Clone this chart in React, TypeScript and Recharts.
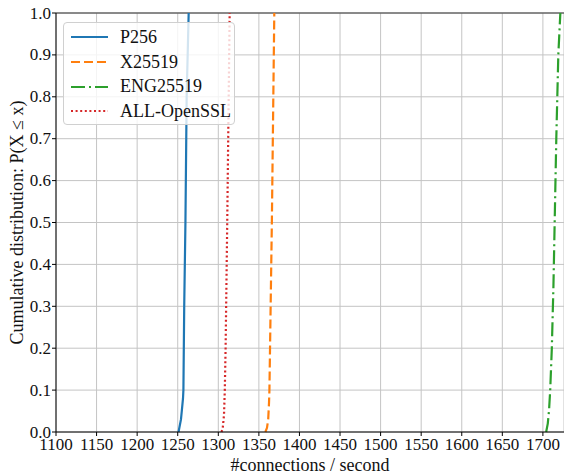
import React from "react";
import {
  LineChart,
  Line,
  XAxis,
  YAxis,
  CartesianGrid,
  Legend,
  ReferenceLine,
} from "recharts";

// connections/second at each cumulative probability level
const p256X = [1251, 1252, 1254, 1255, 1256.5, 1257, 1258, 1259.5, 1261, 1263.5];
const p256Y = [0, 0.01, 0.03, 0.05, 0.08, 0.1, 0.3, 0.5, 0.8, 1.0];

const x25519X = [1358, 1360, 1361.5, 1362.5, 1363, 1364.5, 1366, 1367.5, 1369];
const x25519Y = [0, 0.01, 0.03, 0.07, 0.1, 0.3, 0.5, 0.75, 1.0];

const engX = [1704, 1706, 1707.5, 1709, 1711, 1713, 1714.5, 1716.5, 1719, 1721.5];
const engY = [0, 0.02, 0.05, 0.1, 0.2, 0.35, 0.5, 0.7, 0.9, 1.0];

const opensslX = [1304, 1305.5, 1307, 1308, 1309, 1311, 1312.5, 1314];
const opensslY = [0, 0.01, 0.04, 0.1, 0.2, 0.5, 0.75, 1.0];

const xTicks = [1100, 1150, 1200, 1250, 1300, 1350, 1400, 1450, 1500, 1550, 1600, 1650, 1700];
const yTicks = [0, 0.1, 0.2, 0.3, 0.4, 0.5, 0.6, 0.7, 0.8, 0.9, 1.0];

const toPoints = (xs: number[], ys: number[]) => xs.map((x, i) => ({ x, y: ys[i] }));

const series = [
  { name: "P256", color: "#1f77b4", dash: undefined as string | undefined, data: toPoints(p256X, p256Y) },
  { name: "X25519", color: "#ff7f0e", dash: "9 4", data: toPoints(x25519X, x25519Y) },
  { name: "ENG25519", color: "#2ca02c", dash: "14 4 2 4", data: toPoints(engX, engY) },
  { name: "ALL-OpenSSL", color: "#d62728", dash: "2 2.6", data: toPoints(opensslX, opensslY) },
];

const FONT = "Liberation Serif";

const renderLegend = () => (
  <div
    style={{
      width: 172,
      height: 103,
      boxSizing: "border-box",
      border: "1px solid #d0d0d0",
      borderRadius: 4,
      background: "rgba(255,255,255,0.8)",
      paddingTop: 2,
      fontFamily: FONT,
      fontSize: 18,
      color: "#111",
    }}
  >
    {series.map((s) => (
      <div key={s.name} style={{ display: "flex", alignItems: "center", height: 24.7 }}>
        <svg width={37} height={6} style={{ marginLeft: 7, marginRight: 12 }}>
          <line x1={0} y1={3} x2={37} y2={3} stroke={s.color} strokeWidth={2.2} strokeDasharray={s.dash} />
        </svg>
        <span>{s.name}</span>
      </div>
    ))}
  </div>
);

const XTick = (props: any) => {
  const { x, y, payload } = props;
  return (
    <text x={x} y={y + 13} textAnchor="middle" fill="#111" fontSize={17} fontFamily={FONT}>
      {payload.value}
    </text>
  );
};

const YTick = (props: any) => {
  const { x, y, payload } = props;
  return (
    <text x={x} y={y + 5.5} textAnchor="end" fill="#111" fontSize={17} fontFamily={FONT}>
      {Number(payload.value).toFixed(1)}
    </text>
  );
};

export default function App() {
  return (
    <div
      style={{
        position: "absolute",
        left: 0,
        top: 0,
        width: 564,
        height: 475,
        background: "#fff",
        fontFamily: FONT,
      }}
    >
      <LineChart width={564} height={475} margin={{ top: 13, right: 0, bottom: 0, left: 0 }}>
        <CartesianGrid stroke="#c4c4c4" strokeWidth={1} />
        <XAxis
          type="number"
          dataKey="x"
          domain={[1100, 1726]}
          ticks={xTicks}
          interval={0}
          allowDataOverflow
          height={43}
          tickSize={4}
          tickMargin={1}
          stroke="#000"
          tick={<XTick />}
          label={{
            value: "#connections / second",
            position: "insideBottom",
            offset: 4,
            fill: "#111",
            fontSize: 18,
            fontFamily: FONT,
          }}
        />
        <YAxis
          type="number"
          dataKey="y"
          domain={[0, 1]}
          ticks={yTicks}
          interval={0}
          width={56}
          tickSize={4}
          tickMargin={1}
          stroke="#000"
          tick={<YTick />}
          label={{
            value: "Cumulative distribution: P(X ≤ x)",
            angle: -90,
            position: "insideLeft",
            offset: 17,
            style: { textAnchor: "middle" },
            fill: "#111",
            fontSize: 18,
            fontFamily: FONT,
          }}
        />
        <ReferenceLine y={1} stroke="#333" strokeWidth={1} />
        {series.map((s) => (
          <Line
            key={s.name}
            data={s.data}
            dataKey="y"
            name={s.name}
            type="linear"
            stroke={s.color}
            strokeWidth={2.2}
            strokeDasharray={s.dash}
            dot={false}
            isAnimationActive={false}
          />
        ))}
        <Legend
          layout="vertical"
          align="center"
          verticalAlign="middle"
          content={renderLegend}
          wrapperStyle={{ left: 63, top: 22, width: 172, height: 103 }}
        />
      </LineChart>
    </div>
  );
}
